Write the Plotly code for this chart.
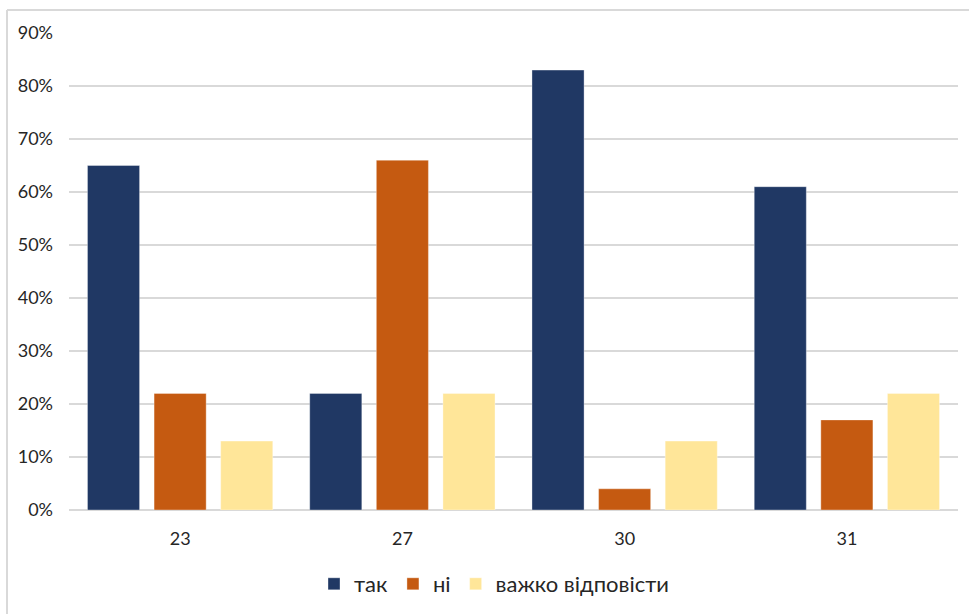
import plotly.graph_objects as go

categories = ["23", "27", "30", "31"]
series_names = ["так", "ні", "важко відповісти"]
tak = [0.65, 0.22, 0.83, 0.61]
ni = [0.22, 0.66, 0.04, 0.17]
vazhko = [0.13, 0.22, 0.13, 0.22]
colors = ["#203864", "#C55A11", "#FFE699"]

W, H = 969, 614
L, R, T, B = 69, 11, 33, 104
pw, ph = W - L - R, H - T - B

fig = go.Figure()
for name, vals, col in zip(series_names, [tak, ni, vazhko], colors):
    fig.add_trace(go.Bar(
        x=categories, y=vals, name=name,
        marker=dict(color=col, line=dict(color="rgba(255,255,255,0.35)", width=1)),
        hoverinfo="skip",
    ))

font_family = "Lato, 'Open Sans', sans-serif"
fig.update_layout(
    width=W, height=H,
    margin=dict(l=L, r=R, t=T, b=B, autoexpand=False),
    paper_bgcolor="white", plot_bgcolor="white",
    barmode="group", bargap=0.101, bargroupgap=0.218,
    font=dict(family=font_family, size=18, color="#262626"),
    showlegend=True,
    legend=dict(orientation="h", x=0.5 - 19 / pw, xanchor="center",
                y=(0 - (584 - (T + ph))) / ph, yanchor="middle",
                font=dict(size=22, color="#262626"),
                itemwidth=30, traceorder="normal"),
    xaxis=dict(type="category", showgrid=False, showline=False, zeroline=False,
               ticks="", tickfont=dict(size=18, color="#262626"),
               ticklabelstandoff=16),
    yaxis=dict(range=[0, 0.9], dtick=0.1, tickformat=".0%",
               showgrid=True, gridcolor="#D9D9D9", gridwidth=1.5,
               zeroline=True, zerolinecolor="#D9D9D9", zerolinewidth=2,
               showline=False, ticks="", tickfont=dict(size=18, color="#262626"),
               ticklabelstandoff=15),
    shapes=[
        dict(type="line", xref="paper", yref="paper",
             x0=(7 - L) / pw, x1=(7 - L) / pw,
             y0=(T + ph - H) / ph, y1=(T + ph - 10) / ph,
             line=dict(color="#D9D9D9", width=2)),
        dict(type="line", xref="paper", yref="paper",
             x0=(7 - L) / pw, x1=(W - L) / pw,
             y0=(T + ph - 10) / ph, y1=(T + ph - 10) / ph,
             line=dict(color="#D9D9D9", width=2)),
    ],
)

fig.write_html("out.html")
